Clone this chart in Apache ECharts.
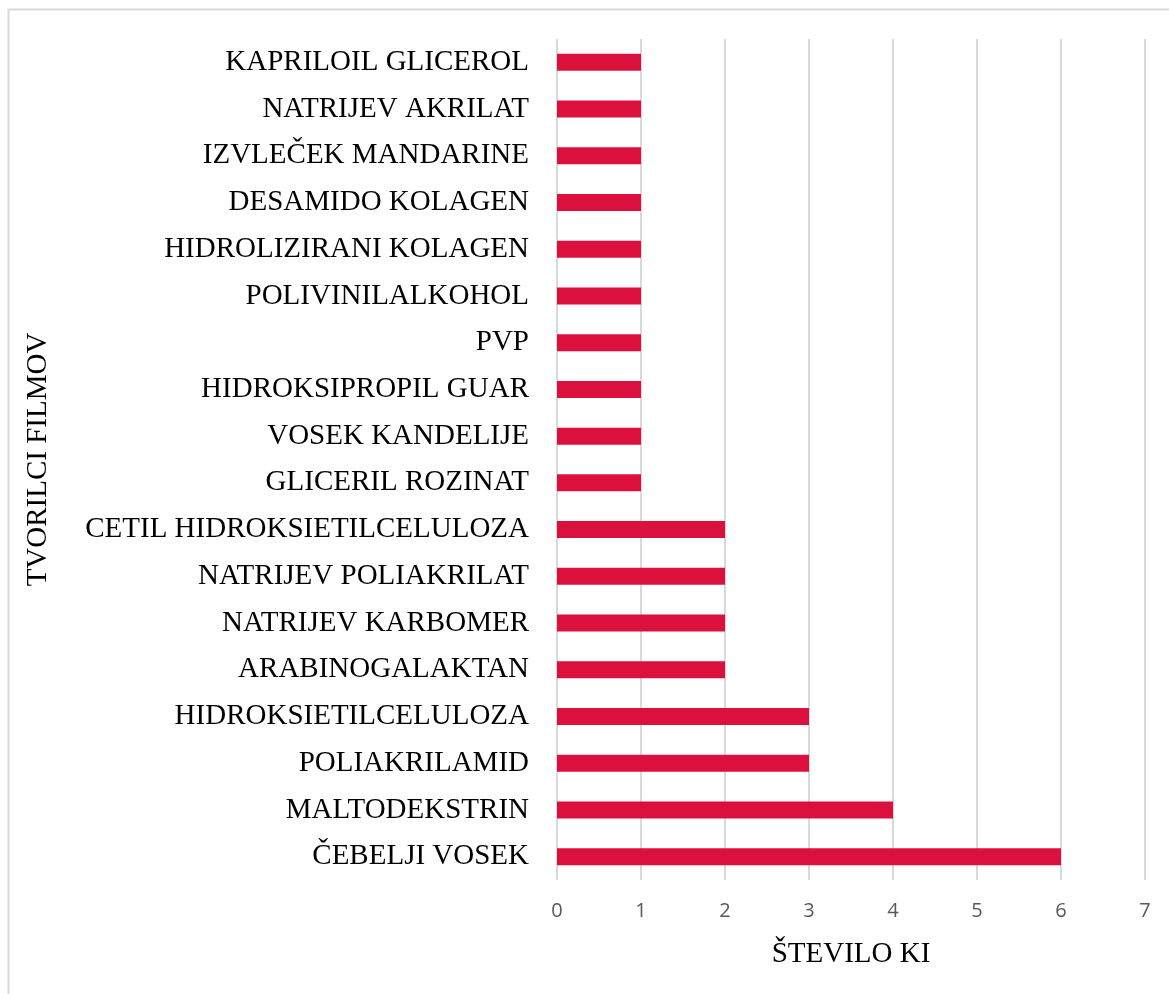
<!DOCTYPE html>
<html>
<head>
<meta charset="utf-8">
<script src="https://cdn.jsdelivr.net/npm/echarts@6/dist/echarts.min.js"></script>
<style>
  html, body { margin: 0; padding: 0; background: #fff; }
  #chart { width: 1169px; height: 994px; }
</style>
</head>
<body>
<div id="chart"></div>
<script>
// categories listed bottom to top, as the category axis draws them
const categories = [
  'ČEBELJI VOSEK',
  'MALTODEKSTRIN',
  'POLIAKRILAMID',
  'HIDROKSIETILCELULOZA',
  'ARABINOGALAKTAN',
  'NATRIJEV KARBOMER',
  'NATRIJEV POLIAKRILAT',
  'CETIL HIDROKSIETILCELULOZA',
  'GLICERIL ROZINAT',
  'VOSEK KANDELIJE',
  'HIDROKSIPROPIL GUAR',
  'PVP',
  'POLIVINILALKOHOL',
  'HIDROLIZIRANI KOLAGEN',
  'DESAMIDO KOLAGEN',
  'IZVLEČEK MANDARINE',
  'NATRIJEV AKRILAT',
  'KAPRILOIL GLICEROL',
]
const counts = [6, 4, 3, 3, 2, 2, 2, 2, 1, 1, 1, 1, 1, 1, 1, 1, 1, 1]
const xTicks = [0, 1, 2, 3, 4, 5, 6, 7]

const serif = '"Liberation Serif", "DejaVu Serif", serif'

const chart = echarts.init(document.getElementById('chart'))

chart.setOption({
  animation: false,
  graphic: [
    {
      type: 'rect',
      shape: { x: 8.5, y: 9.5, width: 1200, height: 1100 },
      style: { fill: 'none', stroke: '#d9d9d9', lineWidth: 2 },
      silent: true,
    },
  ],
  grid: {
    left: 557,
    right: 24,
    top: 39,
    bottom: 114,
    containLabel: false,
  },
  xAxis: {
    type: 'value',
    min: xTicks[0],
    max: xTicks[xTicks.length - 1],
    interval: 1,
    name: 'ŠTEVILO KI',
    nameLocation: 'middle',
    nameGap: 60,
    nameTextStyle: { fontFamily: serif, fontSize: 29, color: '#000' },
    axisLine: { show: false },
    axisTick: { show: false },
    axisLabel: {
      color: '#595959',
      fontFamily: '"Open Sans", "Liberation Sans", sans-serif',
      fontSize: 20,
      margin: 21,
    },
    splitLine: { show: true, lineStyle: { color: '#d9d9d9', width: 2 } },
  },
  yAxis: {
    type: 'category',
    data: categories,
    name: 'TVORILCI FILMOV',
    nameLocation: 'middle',
    nameGap: 504,
    nameRotate: 90,
    nameTextStyle: { fontFamily: serif, fontSize: 29, color: '#000' },
    axisLine: { show: false },
    axisTick: { show: false },
    axisLabel: {
      color: '#000',
      fontFamily: serif,
      fontSize: 29,
      margin: 28,
    },
    splitLine: { show: false },
  },
  series: [
    {
      type: 'bar',
      data: counts,
      barWidth: 17,
      itemStyle: { color: '#dc103c' },
    },
  ],
})
</script>
</body>
</html>
